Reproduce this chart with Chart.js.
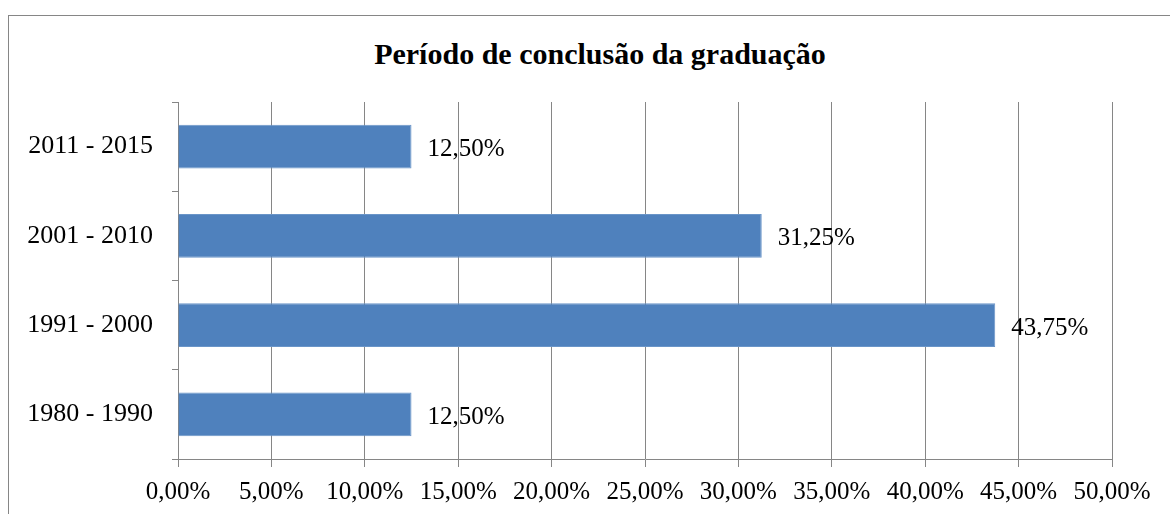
<!DOCTYPE html>
<html>
<head>
<meta charset="utf-8">
<script src="https://cdn.jsdelivr.net/npm/chart.js@4.4.0/dist/chart.umd.min.js"></script>
<style>
	html, body { margin: 0; padding: 0; background: #fff; }
	#wrap { position: relative; width: 1170px; height: 514px; overflow: hidden; }
	#frame { position: absolute; left: 8px; top: 15px; width: 1200px; height: 600px; border: 1px solid #868686; box-sizing: border-box; }
	#titulo { position: absolute; left: 0; width: 1200px; top: 37px; text-align: center; font: bold 30px "Liberation Serif", "Times New Roman", serif; line-height: 34px; color: #000; }
	#mychart { position: absolute; left: 0; top: 0; }
</style>
</head>
<body>
<div id="wrap">
	<div id="frame"></div>
	<div id="titulo">Período de conclusão da graduação</div>
	<canvas id="mychart" width="1170" height="514"></canvas>
</div>
<script>
var periodos = ['2011 - 2015', '2001 - 2010', '1991 - 2000', '1980 - 1990'];
var percentuais = [12.50, 31.25, 43.75, 12.50];
var eixoMax = 50;
var eixoPasso = 5;

function formatoPct(v) {
	return v.toFixed(2).replace('.', ',') + '%';
}

// rotulos de dados ao lado das barras
var rotulos = {
	id: 'rotulos',
	afterDatasetsDraw: function (chart) {
		var ctx = chart.ctx;
		var meta = chart.getDatasetMeta(0);
		ctx.save();
		ctx.font = '25px "Liberation Serif", "Times New Roman", serif';
		ctx.fillStyle = '#000';
		ctx.textAlign = 'left';
		ctx.textBaseline = 'middle';
		meta.data.forEach(function (bar, i) {
			ctx.fillText(formatoPct(percentuais[i]), bar.x + 16, bar.y + 3);
		});
		ctx.restore();
	}
};

var ctx = document.getElementById('mychart').getContext('2d');
var myChart = new Chart(ctx, {
	type: 'bar',
	data: {
		labels: periodos,
		datasets: [{
			data: percentuais,
			backgroundColor: '#4F81BD',
			borderColor: '#6a95c8',
			borderWidth: 1,
			barPercentage: 0.49,
			categoryPercentage: 1
		}]
	},
	options: {
		indexAxis: 'y',
		responsive: false,
		animation: false,
		layout: { padding: { left: 8, right: 58, top: 102, bottom: 0 } },
		plugins: {
			legend: { display: false },
			title: { display: false },
			tooltip: { enabled: false }
		},
		scales: {
			x: {
				min: 0,
				max: eixoMax,
				afterFit: function (scale) { scale.height = 55; },
				ticks: {
					stepSize: eixoPasso,
					padding: 10,
					color: '#000',
					font: { family: '"Liberation Serif", "Times New Roman", serif', size: 25 },
					callback: function (v) { return formatoPct(v); }
				},
				grid: { color: '#868686', lineWidth: 1, tickLength: 8, drawTicks: true },
				border: { color: '#868686', width: 1 }
			},
			y: {
				afterFit: function (scale) { scale.width = 170; },
				ticks: {
					padding: 19,
					color: '#000',
					font: { family: '"Liberation Serif", "Times New Roman", serif', size: 26 }
				},
				grid: { offset: true, drawOnChartArea: false, color: '#868686', tickLength: 6 },
				border: { color: '#868686', width: 1 }
			}
		}
	},
	plugins: [rotulos]
});
</script>
</body>
</html>
